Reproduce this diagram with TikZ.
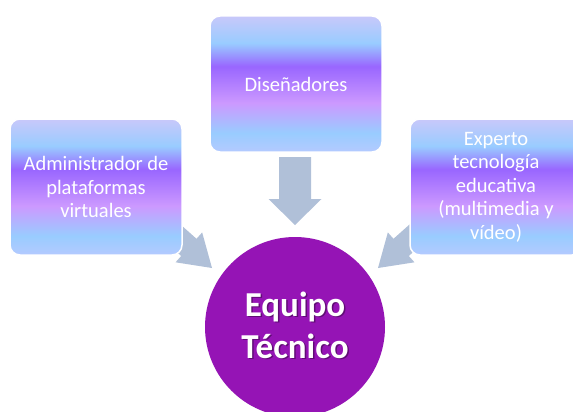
\documentclass[tikz,border=0pt]{standalone}
\usepackage{fontspec}
\setmainfont{Carlito}
\definecolor{lav}{HTML}{C8C8FA}
\definecolor{lb}{HTML}{99CCFF}
\definecolor{pu}{HTML}{9966FF}
\definecolor{lp}{HTML}{CC99FF}
\definecolor{bot}{HTML}{B4CAFF}
\definecolor{arrowc}{HTML}{B0C0D8}
\definecolor{circ}{HTML}{9514B5}
\pgfdeclareverticalshading{boxshade}{100bp}{color(0bp)=(bot); color(25bp)=(bot); color(32bp)=(lb); color(43bp)=(lp); color(56.5bp)=(pu); color(65bp)=(lb); color(75bp)=(lav); color(100bp)=(lav)}
\begin{document}
\begin{tikzpicture}[x=1pt,y=-1pt,
  box/.style={rectangle, rounded corners=10pt, minimum width=172pt, minimum height=136pt,
    draw=white, line width=1.5pt, shade, shading=boxshade, text=white, align=center,
    font=\fontsize{20.5}{23.5}\selectfont, inner sep=0pt},
  blockarrow/.style={fill=arrowc, draw=none},
  bigtext/.style={font=\fontsize{35}{42}\bfseries\selectfont, anchor=base, inner sep=0pt},
  shadowtext/.style={bigtext, text=black, opacity=0.35},
  lighttext/.style={bigtext, text=white}]
\useasboundingbox (0,0) rectangle (573,412);
\fill[white] (0,0) rectangle (573,412);
% arrows
\coordinate (ltip) at (212,268);
\coordinate (rtip) at (378,268);
\coordinate (dtip) at (295,225);
\begin{scope}[shift={(ltip)}, rotate=-41.7]
  \fill[blockarrow] (0,0) -- (-31,20) -- (-31,11.5) -- (-61,11.5) -- (-61,-11.5) -- (-31,-11.5) -- (-31,-20) -- cycle;
\end{scope}
\begin{scope}[shift={(rtip)}, rotate=-138.3]
  \fill[blockarrow] (0,0) -- (-31,20) -- (-31,11.5) -- (-61,11.5) -- (-61,-11.5) -- (-31,-11.5) -- (-31,-20) -- cycle;
\end{scope}
\begin{scope}[shift={(dtip)}, rotate=-90]
  \fill[blockarrow] (0,0) -- (-26,26.5) -- (-26,16) -- (-68,16) -- (-68,-16) -- (-26,-16) -- (-26,-26.5) -- cycle;
\end{scope}
% boxes
\node[box] (admin) at (96,187) {Administrador de\\plataformas\\virtuales};
\node[box] (dis) at (296,84) {Diseñadores};
\node[box] (exp) at (496,187) {Experto\\tecnología\\educativa\\(multimedia y\\vídeo)};
% circle
\node[circle, fill=circ, minimum size=180pt, inner sep=0pt] (team) at (295,327) {};
\node[shadowtext] (eq1s) at (296.5,317.5) {Equipo};
\node[shadowtext] (eq2s) at (296.5,359.5) {Técnico};
\node[lighttext] (eq1) at (295,316) {Equipo};
\node[lighttext] (eq2) at (295,358) {Técnico};
\end{tikzpicture}
\end{document}
